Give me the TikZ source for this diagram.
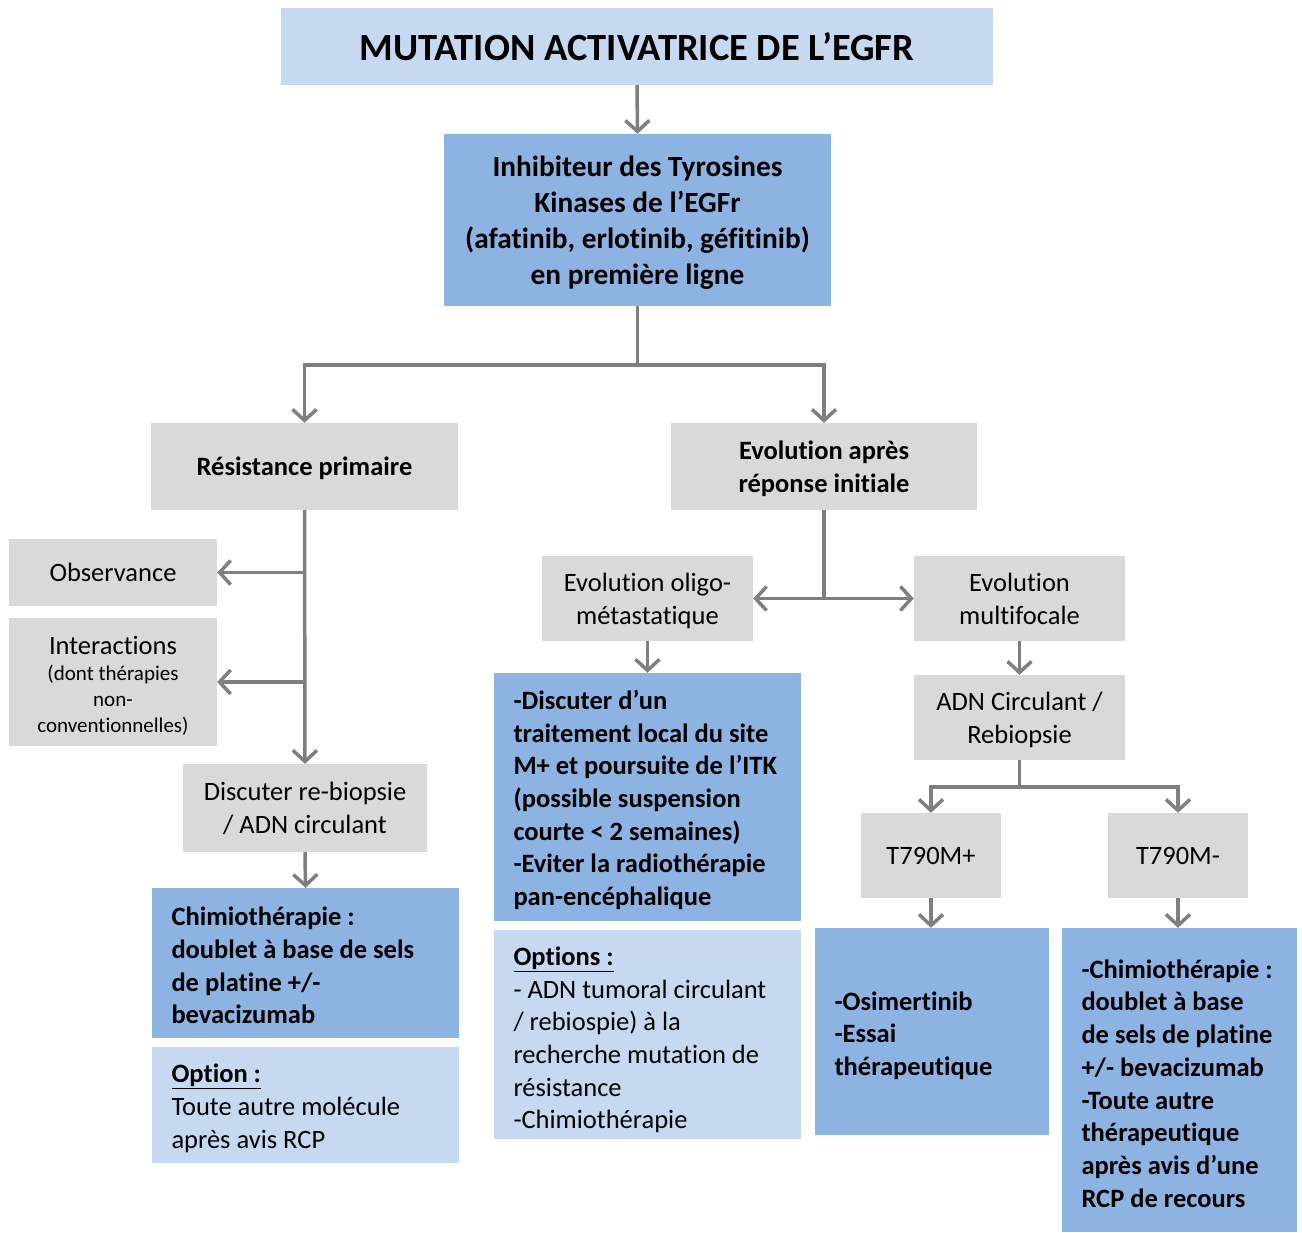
\documentclass[tikz,border=0pt]{standalone}
\usepackage{fontspec}
\setmainfont{Carlito}[Ligatures=NoCommon]
\usetikzlibrary{arrows.meta}
\definecolor{lightblue}{HTML}{C6D9F1}
\definecolor{midblue}{HTML}{8DB3E2}
\definecolor{boxgray}{HTML}{D9D9D9}
\definecolor{arrowgray}{HTML}{7F7F7F}
\newcommand{\txtnormal}{\fontsize{26.5}{32.7}\selectfont}
\newcommand{\txtsmall}{\fontsize{21}{26}\selectfont}
\newcommand{\firstline}[1]{\rule{0pt}{#1pt}}

\begin{document}
\begin{tikzpicture}[x=1pt, y=-1pt,
  box/.style={inner ysep=0pt, inner xsep=19.5pt, align=flush center},
  graybox/.style={box, fill=boxgray, text depth=0pt, font=\txtnormal},
  boldgray/.style={graybox, font=\bfseries\txtnormal},
  bluebox/.style={box, fill=midblue, align=flush left, font=\bfseries\txtnormal},
  optbox/.style={box, fill=lightblue, align=flush left, font=\txtnormal},
  arr/.style={draw=arrowgray, line width=3.5pt, -{Straight Barb[length=11pt,width=24pt]}},
  trunk/.style={draw=arrowgray, line width=3.5pt}]
  \useasboundingbox (0,0) rectangle (1302,1233);
  % top of the tree
  \node[box, fill=lightblue, minimum width=712, minimum height=77,
    font=\bfseries\fontsize{38.5}{46}\selectfont] (mutation) at (637,46.5)
    {MUTATION ACTIVATRICE DE L’EGFR};
  \node[box, fill=midblue, minimum width=387, minimum height=172, text depth=0pt,
    font=\bfseries\fontsize{29.3}{36}\selectfont] (itk) at (637.5,220)
    {Inhibiteur des Tyrosines\\Kinases de l’EGFr\\(afatinib, erlotinib, géfitinib)\\en première ligne};
  \node[boldgray, minimum width=307, minimum height=87] (resist) at (304.5,466.5) {Résistance primaire};
  \node[boldgray, minimum width=306, minimum height=87] (evol) at (824,466.5) {Evolution après\\réponse initiale};
  % left branch
  \node[graybox, minimum width=208, minimum height=67] (obs) at (113,572.5) {Observance};
  \node[box, fill=boxgray, font=\txtnormal, minimum width=208, minimum height=128, text width=169] (inter) at (113,682)
    {\firstline{25}Interactions\\{\txtsmall (dont thérapies\\non-\\conventionnelles)\par}};
  \node[graybox, minimum width=244, minimum height=88] (rebiop) at (305,808) {Discuter re-biopsie\\/ ADN circulant};
  \node[bluebox, minimum width=307, minimum height=150, text width=268] (chimio) at (305.5,963)
    {\firstline{23.5}Chimiothérapie :\\doublet à base de sels\\de platine +/-\\bevacizumab};
  \node[optbox, minimum width=307, minimum height=116, text width=268] (option) at (305.5,1105)
    {\firstline{25.5}\textbf{\underline{Option :}}\\Toute autre molécule\\après avis RCP};
  % right branch
  \node[graybox, minimum width=211, minimum height=85] (oligo) at (647.5,598.5) {Evolution oligo-\\métastatique};
  \node[graybox, minimum width=211, minimum height=85] (multi) at (1019.5,598.5) {Evolution\\multifocale};
  \node[bluebox, minimum width=307, minimum height=248, text width=268] (local) at (647.5,797)
    {\firstline{25}-Discuter d’un\\traitement local du site\\M+ et poursuite de l’ITK\\(possible suspension\\courte < 2 semaines)\\-Eviter la radiothérapie\\pan-encéphalique};
  \node[optbox, minimum width=307, minimum height=209, text width=268] (options) at (647.5,1034.5)
    {\firstline{29.5}\textbf{\underline{Options :}}\\- ADN tumoral circulant\\/ rebiospie) à la\\recherche mutation de\\résistance\\-Chimiothérapie};
  \node[graybox, minimum width=211, minimum height=85] (adn) at (1019.5,717.5) {ADN Circulant /\\Rebiopsie};
  \node[graybox, minimum width=140, minimum height=85] (tplus) at (931,855.5) {T790M+};
  \node[graybox, minimum width=140, minimum height=85] (tminus) at (1178,855.5) {T790M-};
  \node[bluebox, minimum width=234, minimum height=207, text width=195] (osim) at (932,1031.5)
    {\firstline{27}-Osimertinib\\-Essai\\thérapeutique};
  \node[bluebox, minimum width=235, minimum height=304, text width=196] (recours) at (1179.5,1080)
    {\firstline{25.5}-Chimiothérapie :\\doublet à base\\de sels de platine\\+/- bevacizumab\\-Toute autre\\thérapeutique\\après avis d’une\\RCP de recours};
  % connectors
  \coordinate (split) at (637.5,365);
  \coordinate (split2) at (1019.5,787);
  \draw[arr] (mutation.south) -- (itk.north);
  \draw[trunk] (itk.south) -- (split);
  \draw[arr] (split) -| (resist.north);
  \draw[arr] (split) -| (evol.north);
  \draw[arr] (resist.south) -- (rebiop.north);
  \draw[arr] (resist.south |- obs.east) -- (obs.east);
  \draw[arr] (resist.south |- inter.east) -- (inter.east);
  \draw[arr] (rebiop.south) -- (chimio.north);
  \draw[arr] (evol.south) |- (oligo.east);
  \draw[arr] (evol.south) |- (multi.west);
  \draw[arr] (oligo.south) -- (local.north);
  \draw[arr] (multi.south) -- (adn.north);
  \draw[trunk] (adn.south) -- (split2);
  \draw[arr] (split2) -| (tplus.north);
  \draw[arr] (split2) -| (tminus.north);
  \draw[arr] (tplus.south) -- (tplus.south |- osim.north);
  \draw[arr] (tminus.south) -- (tminus.south |- recours.north);
\end{tikzpicture}
\end{document}
